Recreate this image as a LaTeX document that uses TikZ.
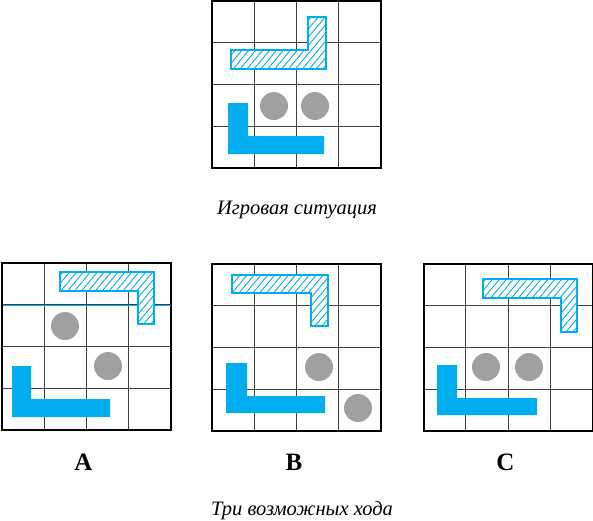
\documentclass[tikz,border=0pt]{standalone}
\usepackage{fontspec}
\setmainfont{Liberation Serif}
\usetikzlibrary{patterns.meta}
\definecolor{tcyan}{HTML}{00AEEF}
\definecolor{tgray}{HTML}{A0A0A0}
\definecolor{tgrid}{HTML}{404040}
\tikzset{
  gridline/.style={tgrid, line width=1pt},
  gridframe/.style={black, line width=2pt},
  cyanline/.style={tcyan, line width=1pt},
  solidpiece/.style={fill=tcyan, draw=none},
  hatchpiece/.style={preaction={fill=white}, pattern color=tcyan,
    pattern={Lines[angle=50,distance=5.3pt,line width=0.9pt]},
    draw=tcyan, line width=1.7pt},
  ball/.style={fill=tgray, draw=none},
  caption/.style={font=\itshape\fontsize{20.5}{24}\selectfont, inner sep=0pt},
  letter/.style={font=\bfseries\fontsize{25}{28}\selectfont, inner sep=0pt},
}
\newcommand\tetrisgrid[2]{%
  \begin{scope}[shift={(#1,#2)}]
    \foreach \i in {1,2,3} {
      \draw[gridline] (\i*42.25,0) -- (\i*42.25,167);
      \draw[gridline] (0,\i*41.75) -- (169,\i*41.75);
    }
    \draw[gridframe] (0,0) rectangle (169,167);
  \end{scope}}
\begin{document}
\begin{tikzpicture}[x=1pt,y=-1pt]
  \useasboundingbox[fill=white] (0,0) rectangle (593,520);
  % top grid
  \tetrisgrid{212}{1}
  \draw[hatchpiece] (231,50) -- (308,50) -- (308,17) -- (326,17) -- (326,69) -- (231,69) -- cycle;
  \fill[solidpiece] (228,103) -- (248,103) -- (248,136) -- (324,136) -- (324,154) -- (228,154) -- cycle;
  \fill[ball] (274,106) circle (14);
  \fill[ball] (315,106) circle (14);
  \node[caption, anchor=base] (cap1) at (297,214) {Игровая ситуация};
  % A
  \tetrisgrid{2}{263}
  \draw[cyanline] (3,305) -- (171,305);
  \draw[hatchpiece] (60,272) -- (154,272) -- (154,324) -- (138,324) -- (138,291) -- (60,291) -- cycle;
  \fill[ball] (65,326) circle (14);
  \fill[ball] (108,366) circle (14);
  \fill[solidpiece] (12,366) -- (31,366) -- (31,399) -- (110,399) -- (110,417) -- (12,417) -- cycle;
  % B
  \tetrisgrid{212}{264}
  \draw[hatchpiece] (232,275) -- (328,275) -- (328,326) -- (311,326) -- (311,293) -- (232,293) -- cycle;
  \fill[ball] (319,367) circle (14);
  \fill[ball] (358,408) circle (14);
  \fill[solidpiece] (226,363) -- (247,363) -- (247,396) -- (325,396) -- (325,413) -- (226,413) -- cycle;
  % C
  \tetrisgrid{423.5}{264}
  \draw[hatchpiece] (483,279) -- (577,279) -- (577,332) -- (561,332) -- (561,298) -- (483,298) -- cycle;
  \fill[ball] (486,367) circle (14);
  \fill[ball] (529,367) circle (14);
  \fill[solidpiece] (437,365) -- (457,365) -- (457,398) -- (537,398) -- (537,415) -- (437,415) -- cycle;
  % labels
  \node[letter, anchor=base] (la) at (83.5,470) {A};
  \node[letter, anchor=base] (lb) at (294,470) {B};
  \node[letter, anchor=base] (lc) at (505.5,470) {C};
  \node[caption, anchor=base] (cap2) at (302,515) {Три возможных хода};
\end{tikzpicture}
\end{document}
